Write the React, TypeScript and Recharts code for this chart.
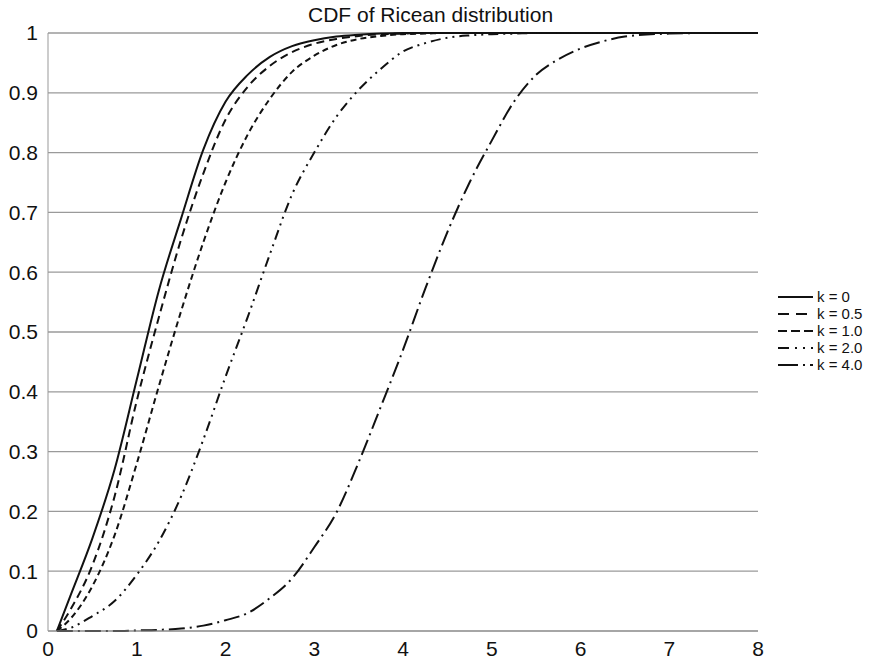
import { LineChart, Line, XAxis, YAxis, CartesianGrid, Legend } from 'recharts';

// x positions (the curves start at 0.1)
const xs = [0.1, 0.25, 0.5, 0.75, 1, 1.25, 1.5, 1.75, 2, 2.25, 2.5, 2.75, 3, 3.25, 3.5, 3.75, 4, 4.25, 4.5, 4.75, 5, 5.25, 5.5, 5.75, 6, 6.25, 6.5, 7, 7.5, 8];

// CDF values, one per x above
const k0 = [0, 0.058, 0.155, 0.27, 0.42, 0.57, 0.69, 0.805, 0.885, 0.93, 0.96, 0.978, 0.988, 0.994, 0.997, 0.999, 1, 1, 1, 1, 1, 1, 1, 1, 1, 1, 1, 1, 1, 1];
const k05 = [0, 0.035, 0.11, 0.225, 0.385, 0.525, 0.655, 0.765, 0.855, 0.91, 0.945, 0.968, 0.982, 0.99, 0.995, 0.998, 0.999, 1, 1, 1, 1, 1, 1, 1, 1, 1, 1, 1, 1, 1];
const k1 = [0, 0.02, 0.075, 0.16, 0.28, 0.41, 0.535, 0.65, 0.75, 0.83, 0.89, 0.935, 0.962, 0.98, 0.99, 0.995, 0.998, 0.999, 1, 1, 1, 1, 1, 1, 1, 1, 1, 1, 1, 1];
const k2 = [0, 0.005, 0.025, 0.05, 0.094, 0.15, 0.225, 0.32, 0.425, 0.525, 0.63, 0.73, 0.8, 0.86, 0.905, 0.94, 0.969, 0.983, 0.992, 0.996, 0.998, 0.999, 1, 1, 1, 1, 1, 1, 1, 1];
const k4 = [0, 0, 0, 0, 0.001, 0.002, 0.004, 0.009, 0.018, 0.03, 0.055, 0.088, 0.14, 0.198, 0.282, 0.375, 0.47, 0.572, 0.667, 0.75, 0.82, 0.885, 0.93, 0.956, 0.974, 0.986, 0.994, 0.999, 1, 1];

const xTicks = [0, 1, 2, 3, 4, 5, 6, 7, 8];
const yTicks = [0, 0.1, 0.2, 0.3, 0.4, 0.5, 0.6, 0.7, 0.8, 0.9, 1];

const series = [
  { key: 'k0', name: 'k = 0', dash: undefined, legendDash: undefined },
  { key: 'k05', name: 'k = 0.5', dash: '8 5', legendDash: '11 7' },
  { key: 'k1', name: 'k = 1.0', dash: '6 4', legendDash: '9 4' },
  { key: 'k2', name: 'k = 2.0', dash: '10 5 2 5 2 5', legendDash: '11 6 2 6 2 6' },
  { key: 'k4', name: 'k = 4.0', dash: '16 5 2 5', legendDash: '20 5 2 5' },
];

const data = xs.map((x, i) => ({ x, k0: k0[i], k05: k05[i], k1: k1[i], k2: k2[i], k4: k4[i] }));

const FONT = '"Liberation Sans", Arial, sans-serif';

const LegendBox = () => (
  <div style={{ fontFamily: FONT, fontSize: 15, color: '#111' }}>
    {series.map((s) => (
      <div key={s.key} style={{ display: 'flex', alignItems: 'center', height: 17, whiteSpace: 'nowrap' }}>
        <svg width={36} height={6} style={{ marginRight: 3 }}>
          <line x1={0} y1={3} x2={35} y2={3} stroke="#111" strokeWidth={2.2} strokeDasharray={s.legendDash} />
        </svg>
        <span style={{ lineHeight: '17px' }}>{s.name}</span>
      </div>
    ))}
  </div>
);

export default function App() {
  return (
    <div style={{ position: 'absolute', left: 0, top: 0, width: 889, height: 662, background: '#fff' }}>
      <div style={{ position: 'absolute', left: 308, top: 4, fontFamily: FONT, fontSize: 21, lineHeight: '21px', color: '#111', whiteSpace: 'nowrap' }}>
        CDF of Ricean distribution
      </div>
      <LineChart width={889} height={662} data={data} margin={{ top: 33, right: 131, bottom: 0, left: 0 }}>
        <CartesianGrid vertical={false} stroke="#9a9a9a" strokeWidth={1.3} />
        <XAxis
          dataKey="x"
          type="number"
          domain={[0, 8]}
          ticks={xTicks}
          height={31}
          tickLine={false}
          tickSize={6}
          tickMargin={4}
          axisLine={{ stroke: '#999' }}
          tick={{ fill: '#111', fontSize: 21, fontFamily: FONT }}
        />
        <YAxis
          type="number"
          domain={[0, 1]}
          ticks={yTicks}
          width={48}
          tickLine={false}
          tickSize={6}
          tickMargin={4}
          axisLine={{ stroke: '#999' }}
          tickFormatter={(v: number) => String(v)}
          tick={{ fill: '#111', fontSize: 21, fontFamily: FONT }}
        />
        <Legend
          layout="vertical"
          align="center"
          verticalAlign="middle"
          content={<LegendBox />}
          wrapperStyle={{ left: 778, top: 288, width: 111 }}
        />
        {series.map((s) => (
          <Line
            key={s.key}
            dataKey={s.key}
            name={s.name}
            type="monotone"
            stroke="#111"
            strokeWidth={2}
            strokeDasharray={s.dash}
            dot={false}
            isAnimationActive={false}
          />
        ))}
      </LineChart>
    </div>
  );
}
